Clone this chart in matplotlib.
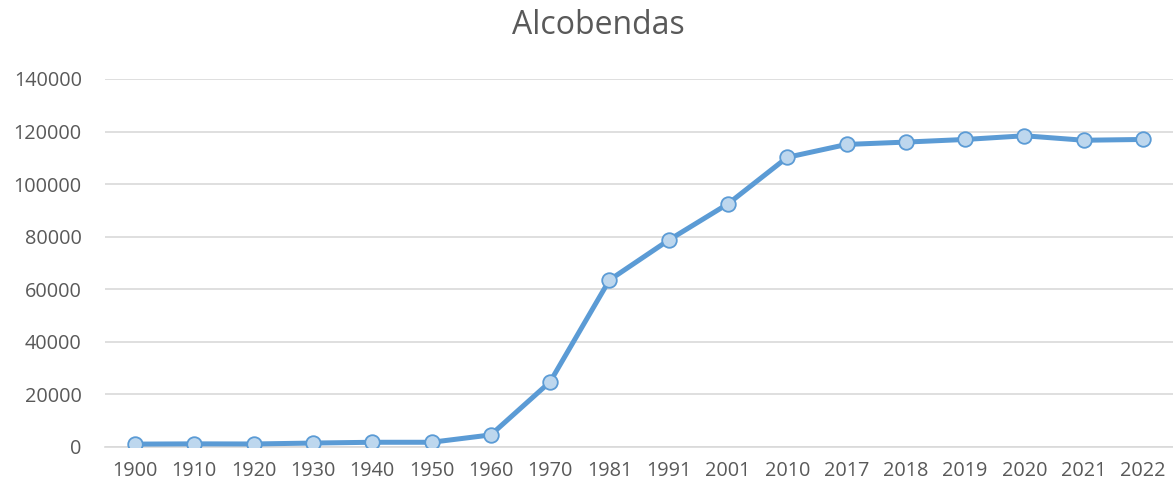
import matplotlib
matplotlib.use("Agg")
import matplotlib.pyplot as plt

years = ["1900", "1910", "1920", "1930", "1940", "1950", "1960", "1970", "1981",
         "1991", "2001", "2010", "2017", "2018", "2019", "2020", "2021", "2022"]
population = [1100, 1200, 1150, 1500, 1800, 1800, 4600, 24800, 63500,
              78700, 92500, 110200, 115100, 116000, 117000, 118400, 116700, 117000]
yticks = [0, 20000, 40000, 60000, 80000, 100000, 120000, 140000]

W, H = 1173, 491
fig = plt.figure(figsize=(W / 100, H / 100), dpi=100)
ax = fig.add_axes([105.4 / W, (H - 447) / H, (1172.7 - 105.4) / W, (447 - 79) / H])

font = "Open Sans"
tc = "#595959"
x = list(range(len(years)))
ax.plot(x, population, color="#5b9bd5", linewidth=3.6, marker="o", markersize=10.5,
        markerfacecolor="#bdd7ee", markeredgecolor="#5b9bd5", markeredgewidth=1.3,
        solid_joinstyle="round", zorder=3)

ax.set_xlim(-0.5, len(years) - 0.5)
ax.set_ylim(0, 140000)
ax.set_yticks(yticks)
ax.set_yticklabels([str(v) for v in yticks], fontfamily=font, fontsize=14.3, color=tc)
ax.set_xticks(x)
ax.set_xticklabels(years, fontfamily=font, fontsize=14.3, color=tc)
ax.tick_params(axis="y", length=0, pad=17)
ax.tick_params(axis="x", length=0, pad=10)
ax.grid(axis="y", color="#d9d9d9", linewidth=1.2)
ax.set_axisbelow(True)
for s in ["top", "right", "left"]:
    ax.spines[s].set_visible(False)
ax.spines["bottom"].set_color("#d9d9d9")
ax.spines["bottom"].set_linewidth(1.2)

fig.text(598 / W, (H - 25) / H, "Alcobendas", ha="center", va="center",
         fontfamily=font, fontsize=23, color=tc)

fig.savefig("out.png", dpi=100)
